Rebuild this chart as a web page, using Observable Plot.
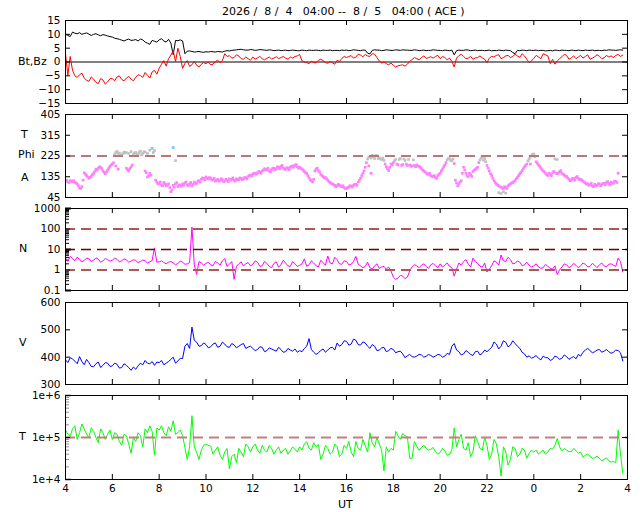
<!DOCTYPE html>
<html><head><meta charset="utf-8">
<script src="https://cdn.jsdelivr.net/npm/d3@7"></script>
<script src="https://cdn.jsdelivr.net/npm/@observablehq/plot@0.6"></script>
<style>
body{margin:0;background:#fff;font-family:"DejaVu Sans",sans-serif;}
#wrap{position:relative;width:640px;height:512px;overflow:hidden;}
.lab{position:absolute;font-size:11px;white-space:pre;color:#000;line-height:14px;}
</style></head><body><div id="wrap"></div>
<script>
// ---- data: UT hours from 04:00; "A" arrays sampled at 4.0,4.2,...; "B" arrays at 4.1,4.3,... ----
const btA = [10.0,9.2,10.4,10.6,10.3,10.1,10.0,9.8,9.9,9.4,
9.0,8.4,7.9,8.0,7.8,8.1,8.3,7.2,6.4,7.5,
8.0,7.6,8.2,2.6,7.7,7.6,3.9,3.8,3.7,3.6,
3.7,3.8,3.6,3.7,3.9,4.0,4.3,4.5,4.4,4.3,
4.4,4.3,4.4,4.2,4.3,4.2,4.1,4.3,4.2,4.2,
4.1,4.2,4.3,4.2,4.2,4.3,4.2,4.1,4.2,4.3,
4.3,4.2,4.3,4.1,4.3,2.9,4.4,4.3,4.2,4.3,
4.2,4.3,4.4,4.3,4.2,4.3,4.2,4.1,4.2,4.3,
4.2,4.3,4.1,2.6,4.3,4.2,4.3,4.2,4.1,4.2,
4.2,4.0,4.1,4.2,4.3,4.1,3.0,4.1,4.2,4.3,
4.2,4.1,4.2,4.1,4.0,4.2,4.3,4.2,4.3,4.1,
4.2,4.3,4.2,4.1,4.2,4.3,4.4,4.3,4.3,4.3];
const btB = [9.6,10.8,10.2,10.0,10.5,9.6,10.2,9.5,9.7,9.2,
8.6,8.2,7.6,8.3,7.9,7.6,8.0,6.8,7.8,7.2,
8.4,7.2,6.8,7.8,8.0,3.0,4.0,3.6,3.8,3.5,
3.6,3.7,3.8,3.6,4.1,4.2,4.4,4.6,4.3,4.5,
4.2,4.5,4.3,4.4,4.1,4.3,4.2,4.1,4.3,4.1,
4.3,4.1,4.2,4.3,4.1,4.2,4.3,4.2,4.1,4.2,
4.1,4.4,4.2,4.3,3.2,4.2,4.3,4.1,4.4,4.2,
4.4,4.2,4.3,4.2,4.4,4.1,4.3,4.2,4.4,4.2,
4.1,4.2,4.3,4.1,4.2,4.4,4.1,4.3,4.2,4.1,
4.3,4.2,4.3,4.1,4.2,3.4,4.2,4.3,4.1,4.2,
4.3,4.2,4.0,4.2,4.3,4.1,4.2,4.1,4.2,4.3,
4.1,4.2,4.3,4.2,4.1,4.2,4.3,4.2,4.4];
const bzA = [3.0,2.0,-5.0,-4.6,-5.8,-7.0,-6.2,-7.8,-6.5,-7.2,
-6.0,-5.4,-6.3,-5.8,-6.2,-5.5,-4.9,-3.8,-5.8,-3.0,
-2.3,0.5,1.2,4.0,5.0,-2.3,0.5,-1.0,-1.2,-0.8,
-0.6,-1.0,0.2,-0.2,3.0,2.3,1.6,2.2,1.0,1.2,
1.8,1.5,1.2,1.3,1.1,1.9,1.6,1.4,1.8,2.0,
2.7,0.0,-0.6,-0.2,0.6,0.5,-0.5,-0.3,0.6,1.3,
1.6,2.3,1.8,2.5,2.7,2.0,2.8,0.4,0.0,-1.0,
-1.2,-1.4,-1.0,-0.8,0.9,1.2,1.6,1.3,1.9,2.0,
1.2,1.6,1.4,-1.8,2.3,2.0,1.4,1.0,1.6,1.5,
-0.2,2.0,2.4,1.2,2.2,1.6,2.8,1.7,2.2,-0.2,
1.3,1.8,3.0,2.2,1.0,0.4,1.9,2.4,1.5,1.2,
2.4,2.0,1.0,1.9,2.1,1.5,1.8,1.6,2.7,2.5];
const bzB = [-4.8,-3.0,-5.6,-4.0,-6.6,-5.4,-7.4,-6.0,-8.0,-6.0,
-6.8,-5.0,-6.8,-5.2,-6.8,-4.6,-5.6,-4.8,-3.6,-4.4,
-0.8,-1.5,2.5,0.2,2.0,-0.5,-1.6,0.2,-1.8,-0.2,
0.0,-0.8,0.6,0.5,2.0,1.4,2.6,1.2,1.8,0.6,
1.0,2.0,0.8,1.8,1.4,1.2,2.0,1.0,1.4,2.2,
0.4,-0.2,0.3,-0.3,1.0,-0.2,0.2,-0.8,0.2,2.0,
2.0,1.4,2.8,1.9,2.2,3.0,1.6,-0.4,-0.6,-0.4,
-1.8,-1.2,-1.5,0.2,1.6,0.8,2.2,1.6,1.4,2.4,
2.0,0.8,0.2,1.4,2.8,1.2,2.0,1.5,2.2,1.0,
1.4,1.8,2.6,1.6,2.4,2.0,2.2,3.0,1.0,0.4,
2.4,1.2,2.6,-0.6,-0.8,1.2,2.8,1.0,2.2,1.8,
1.4,2.6,1.4,2.6,1.2,2.4,2.2,2.4,2.0];
const nA = [3.8,4.6,2.8,3.3,2.9,3.5,3.0,3.4,2.8,3.2,
3.0,3.3,2.8,3.1,2.7,2.9,2.6,2.8,2.5,12.0,
2.5,2.3,2.4,2.2,2.1,2.4,2.0,125,0.6,2.2,
2.1,1.8,2.6,1.7,3.6,1.9,0.35,2.0,1.6,2.3,
1.9,2.4,1.6,2.1,1.3,2.5,1.8,2.2,1.5,2.0,
1.7,3.5,1.8,2.2,1.4,2.3,4.8,2.0,3.2,1.9,
2.6,1.9,4.6,1.6,1.5,1.3,1.6,1.2,1.5,1.4,
0.45,0.4,0.5,0.45,1.4,1.6,1.7,1.5,1.8,1.6,
2.0,1.7,1.5,0.5,2.2,2.6,1.9,3.8,2.1,1.4,
0.8,1.6,2.4,5.4,2.6,3.2,2.1,2.4,1.8,1.7,
1.6,1.4,1.3,1.5,1.1,0.6,1.4,1.8,1.5,1.7,
1.6,1.9,1.5,1.7,1.8,1.6,1.9,1.7,3.8,0.8];
const nB = [2.6,3.6,4.2,2.5,3.8,2.6,3.9,2.4,3.6,2.7,
3.8,2.5,3.5,2.4,3.2,2.3,3.1,2.2,2.9,2.4,
2.8,2.0,2.6,1.8,2.7,1.9,2.3,1.8,2.6,1.7,
2.4,1.6,2.2,2.8,1.5,2.6,1.5,2.5,2.0,1.6,
2.8,1.5,2.6,1.5,2.1,1.4,3.0,1.6,2.6,1.5,
2.0,1.5,2.8,1.6,3.0,1.7,2.2,4.2,2.0,2.8,
1.8,2.6,1.9,1.3,2.4,1.1,2.0,1.4,1.1,0.9,
0.35,0.55,0.38,0.9,1.8,1.3,2.0,1.2,2.1,1.3,
1.4,2.2,1.3,1.1,1.7,3.2,1.4,2.6,1.5,2.2,
1.1,2.8,1.7,2.8,4.2,2.0,2.8,1.6,2.4,1.4,
2.0,1.2,1.9,1.2,1.6,1.0,2.0,1.3,2.1,1.3,
2.2,1.4,2.1,1.3,2.2,1.4,2.0,1.5,2.6];
const vA = [390,398,385,402,372,380,365,382,370,378,
368,374,362,370,352,356,378,388,376,370,
380,372,384,400,386,395,450,510,455,442,
446,438,452,440,448,436,445,440,450,437,
432,428,436,424,430,422,428,420,426,430,
424,432,468,418,416,430,426,436,452,446,
458,448,462,444,452,432,440,426,436,424,
428,420,412,405,402,404,408,403,406,404,
408,404,410,450,420,412,418,406,422,414,
420,436,448,440,455,444,450,432,412,405,
400,396,404,398,392,400,396,402,398,394,
404,426,424,420,428,422,420,418,424,386];
const vB = [380,394,376,384,392,366,376,362,380,366,
378,360,376,362,364,368,372,378,384,382,
388,378,392,378,396,440,432,462,440,452,
434,448,436,455,438,450,434,446,432,440,
424,438,420,434,426,436,418,432,422,418,
420,440,428,410,424,418,434,426,440,460,
444,466,446,456,440,446,424,434,420,432,
416,422,398,410,400,410,400,410,400,410,
400,414,440,426,408,424,410,420,408,426,
428,456,430,460,438,460,440,418,400,396,
406,390,398,388,404,392,408,392,402,410,
418,432,416,426,418,428,414,426,416];
const tA = [1.5e5,1.1e5,1.9e5,1.3e5,1.6e5,1.0e5,1.4e5,7.5e4,1.3e5,1.2e5,
9e4,1.2e5,6.5e4,1.1e5,4.2e4,8e4,1.1e5,1.6e5,1.9e5,3.8e4,
1.5e5,1.3e5,1.8e5,2.5e5,1.3e5,1.1e5,3e4,3.3e5,4.4e4,5e4,
7e4,6.2e4,5e4,3.8e4,4.5e4,1.8e4,4e4,5.5e4,3.5e4,6e4,
6e4,5e4,6.5e4,4.5e4,5.5e4,5e4,4.2e4,5.5e4,4.8e4,5.2e4,
6e4,7e4,5.5e4,7.5e4,6.8e4,4e4,5.5e4,4.5e4,6e4,4e4,
5.5e4,4.5e4,8e4,5e4,6.5e4,1.3e5,6e4,7e4,1.6e4,4.5e4,
5e4,1.1e5,1.25e5,1.05e5,3.2e4,6.2e4,5.8e4,5.5e4,5.2e4,4.6e4,
4.4e4,4.8e4,4e4,1.7e5,9e4,5.5e4,7.5e4,4.5e4,8e4,5e4,
6.5e4,4e4,7e4,1.2e4,4.5e4,3e4,5.5e4,4e4,5e4,4.2e4,
4.5e4,4e4,5e4,4.5e4,5.2e4,9.5e4,4.8e4,5e4,4.6e4,4.9e4,
4.5e4,3.8e4,3.6e4,3.3e4,3.2e4,3e4,2.8e4,2.7e4,1.5e5,1.4e4];
const tB = [1.2e5,1.6e5,9e4,2.1e5,1.2e5,1.7e5,1.0e5,1.6e5,9e4,1.5e5,
1.3e5,8e4,1.2e5,7e4,1.0e5,1.3e5,6e4,1.3e5,1.4e5,1.7e5,
1.9e5,1.1e5,1.4e5,1.2e5,1.5e5,5.8e4,6e4,6e4,3e4,6.5e4,
6.5e4,4e4,6e4,3e4,5.5e4,3.5e4,2.5e4,4.5e4,7e4,4.5e4,
7e4,4.2e4,5e4,6.5e4,4e4,6e4,5e4,4e4,6e4,4.5e4,
5e4,8e4,5e4,6e4,3e4,6.5e4,4e4,7e4,3.5e4,6.5e4,
8e4,3.5e4,5.5e4,9e4,4.5e4,7.5e4,1.0e5,5e4,6e4,5.5e4,
1.4e5,9e4,1.1e5,3.2e4,8e4,5e4,6.5e4,5e4,5.8e4,4e4,
5.5e4,3.8e4,5e4,6e4,1.2e5,5e4,3.5e4,1.1e5,5.5e4,1.0e5,
3e4,9e4,3.5e4,6e4,2.2e4,6e4,3.5e4,5.5e4,3.2e4,5e4,
5e4,4.6e4,4e4,5.5e4,6.5e4,6e4,5.5e4,4.6e4,5.5e4,4.2e4,
3.4e4,4e4,3.2e4,3.6e4,2.8e4,3.3e4,2.6e4,2.5e4,4e4];
// Phi angle at 4.0,4.1,... with colour class; second set at 4.05,4.15,...
const phiA = [116,112,118,114,110,104,86,92,152,140,
128,136,150,168,172,176,160,148,165,180,
190,232,245,238,226,242,172,160,178,232,
240,228,246,236,160,134,150,258,248,112,
106,100,110,96,104,70,262,205,92,98,
104,108,100,104,96,112,106,118,124,128,
134,126,128,122,116,124,118,122,116,120,
126,124,120,126,122,128,126,130,136,142,
146,150,152,155,160,170,166,160,166,172,
170,176,180,174,168,172,176,182,184,178,
176,168,158,150,130,118,124,168,162,145,
136,132,120,110,104,98,96,98,92,88,
84,90,94,98,102,112,128,150,176,212,
222,228,214,226,218,210,206,178,162,190,
196,210,186,214,188,206,184,186,182,184,
186,180,170,160,152,146,140,136,132,140,
150,168,186,208,214,204,192,108,104,118,
176,150,136,144,158,166,176,208,220,214,
184,160,140,118,104,96,90,84,88,96,
104,110,118,132,148,162,178,190,212,226,
234,200,186,172,160,150,140,146,152,212,
148,156,150,142,136,124,120,126,132,128,
124,116,108,104,100,96,102,98,104,100,
106,110,106,112,108,114,150];
const phiClassA = "pppppppppp"+"pppppppppp"+"pgggggpppg"+"ggggpppbgp"+"ppppppbgpp"+
"pppppppppp"+"pppppppppp"+"pppppppppp"+"pppppppppp"+"pppppppppp"+"pppppppppp"+"pppppppppp"+
"pppppppppg"+"gggggggppp"+"pgpgpgpppp"+"pppppppppp"+"pppgggpppp"+"pppppppggg"+
"pppppppppp"+"ppppppppgg"+"gppppppppg"+"pppppppppp"+"pppppppppp"+"ppppppp";
const phiB = [120,110,116,118,108,96,84,120,146,134,
132,144,158,164,178,170,154,156,172,186,
196,240,236,230,236,238,166,170,186,238,
234,240,230,244,152,140,142,240,120,104,
112,96,104,100,88,78,90,110,100,94,
98,112,96,110,102,106,116,112,130,122,
128,132,120,128,120,116,126,114,124,114,
120,130,116,122,130,122,132,126,140,138,
150,146,158,150,164,164,172,156,172,166,
178,170,184,168,174,166,180,176,188,172,
172,164,152,140,122,112,160,172,156,140,
130,126,114,106,100,92,102,94,96,84,
88,96,90,102,98,120,140,160,196,220,
216,222,228,214,212,216,190,170,176,186,
204,190,210,184,212,190,210,180,208,178,
182,176,164,156,146,150,136,140,128,146,
160,178,196,214,206,212,120,96,112,150,
164,140,150,136,164,172,196,216,206,200,
172,148,128,110,100,92,86,92,84,100,
108,114,126,140,154,170,184,204,220,232,
222,194,180,166,156,144,150,140,158,150,
152,162,146,138,130,118,128,120,136,122,
120,112,104,98,106,92,96,104,96,106,
100,114,100,106,116,110];
const extraT = [6.15,6.25,6.6,6.7,6.8,7.4,7.5,7.6,8.6,8.7,16.95,17.05,22.5,22.6,22.7,22.8,23.85,25.0];
const extraV = [182,168,240,236,244,242,236,250,98,104,182,150,66,62,70,64,190,210];
const extraC = "ppggggggppppggggpg";

const xTicks = [6,8,10,12,14,16,18,20,22,24,26];
const xLabels = [4,6,8,10,12,14,16,18,20,22,24,26,28];
const bTicks = [15,10,5,0,-5,-10,-15];
const aTicks = [45,135,225,315,405];
const nTicks = [0.1,1,10,100,1000];
const nLabels = ["0.1","1","10","100","1000"];
const vTicks = [300,400,500,600];
const tTicks = [1e4,1e5,1e6];
const tLabels = ["1e+4","1e+5","1e+6"];

// ---- build ----
const interleave = (a, b) => a.flatMap((v, i) => i < b.length ? [v, b[i]] : [v]);
const bt = interleave(btA, btB), bz = interleave(bzA, bzB), dens = interleave(nA, nB),
      speed = interleave(vA, vB), temp = interleave(tA, tB);
const hours = d3.range(bt.length).map(i => 4 + i * 0.1);
const phiPts = phiA.map((v, i) => ({t: 4 + i * 0.1, v, c: phiClassA[i]}))
  .concat(phiB.map((v, i) => ({t: 4.05 + i * 0.1, v, c: v >= 200 ? "g" : "p"})))
  .concat(extraT.map((t, i) => ({t, v: extraV[i], c: extraC[i]})));
const minorLog = (lo, hi) => { const a = []; for (let e = lo; e < hi; e++) for (let m = 2; m <= 9; m++) a.push(m * 10 ** e); return a; };

const wrap = document.getElementById("wrap");
const W = 562;
function panel(o) {
  const mt = 8, mb = o.bottomAxis ? 40 : 8;
  const h = o.bottom - o.top;
  const marks = [
    ...o.marks,
    Plot.tickX(xTicks, {x: d => d, insetTop: h - 5, stroke: "#000"}),
    Plot.tickX(xTicks, {x: d => d, insetBottom: h - 5, stroke: "#000"}),
    Plot.tickY(o.yTicks, {y: d => d, insetLeft: W - 5, stroke: "#000"}),
    Plot.tickY(o.yTicks, {y: d => d, insetRight: W - 5, stroke: "#000"}),
    Plot.axisY(o.yTicks, {tickSize: 0, tickPadding: 5, label: null, tickFormat: o.fmt}),
    Plot.frame({stroke: "#000"})
  ];
  if (o.bottomAxis) marks.push(Plot.axisX(xLabels, {tickSize: 0, tickPadding: 5, label: null, tickFormat: d => String(d % 24)}));
  const svg = Plot.plot({
    width: 640, height: h + mt + mb,
    marginLeft: 65, marginRight: 13, marginTop: mt, marginBottom: mb,
    style: {fontFamily: "DejaVu Sans", fontSize: "10.5px", background: "none", color: "#000", overflow: "visible"},
    x: o.bottomAxis ? {domain: [4, 28]} : {domain: [4, 28], axis: null},
    y: o.y,
    marks
  });
  svg.style.position = "absolute";
  svg.style.left = "0px";
  svg.style.top = (o.top - mt) + "px";
  wrap.append(svg);
}

// Panel 1: Bt, Bz
panel({top: 20, bottom: 103, y: {domain: [-15, 15]}, yTicks: bTicks, marks: [
  Plot.ruleY([0], {stroke: "#808080", strokeWidth: 2}),
  Plot.line(bt, {x: hours, y: bt, stroke: "#000", strokeWidth: 1, clip: true}),
  Plot.line(bz, {x: hours, y: bz, stroke: "#ff0000", strokeWidth: 1, clip: true})
]});
// Panel 2: Phi angle
panel({top: 114, bottom: 197, y: {domain: [45, 405]}, yTicks: aTicks, marks: [
  Plot.dot(phiPts.filter(d => d.c === "g"), {x: "t", y: "v", r: 1.5, symbol: "square", fill: "#c0c0c0", clip: true}),
  Plot.dot(phiPts.filter(d => d.c === "p"), {x: "t", y: "v", r: 1.5, symbol: "square", fill: "#ff80ff", clip: true}),
  Plot.dot(phiPts.filter(d => d.c === "b"), {x: "t", y: "v", r: 1.6, symbol: "square", fill: "#80c8ff", clip: true}),
  Plot.ruleY([225], {stroke: "#b87878", strokeWidth: 2, strokeDasharray: "10,6"})
]});
// Panel 3: N (log)
panel({top: 208, bottom: 290, y: {type: "log", domain: [0.1, 1000]}, yTicks: nTicks,
  fmt: d => nLabels[nTicks.indexOf(d)], marks: [
  Plot.tickY(minorLog(-1, 3), {y: d => d, insetRight: W - 4, stroke: "#000"}),
  Plot.tickY(nTicks, {y: d => d, insetRight: W - 6, stroke: "#000", strokeWidth: 2}),
  Plot.line(dens, {x: hours, y: dens, stroke: "#ff00ff", strokeWidth: 1, clip: true}),
  Plot.ruleY([100, 1], {stroke: "#b05858", strokeWidth: 2, strokeDasharray: "10,6"}),
  Plot.ruleY([10], {stroke: "#700000", strokeWidth: 1.5, strokeDasharray: "10,6"})
]});
// Panel 4: V
panel({top: 302, bottom: 384, y: {domain: [300, 600]}, yTicks: vTicks, marks: [
  Plot.line(speed, {x: hours, y: speed, stroke: "#0000ff", strokeWidth: 1, clip: true})
]});
// Panel 5: T (log)
panel({top: 395, bottom: 479, y: {type: "log", domain: [1e4, 1e6]}, yTicks: tTicks,
  fmt: d => tLabels[tTicks.indexOf(d)], bottomAxis: true, marks: [
  Plot.tickY(minorLog(4, 6), {y: d => d, insetRight: W - 4, stroke: "#909090"}),
  Plot.tickY(tTicks, {y: d => d, insetRight: W - 6, stroke: "#909090", strokeWidth: 2}),
  Plot.line(temp, {x: hours, y: temp, stroke: "#00ff00", strokeWidth: 1, clip: true}),
  Plot.ruleY([1e5], {stroke: "#c08080", strokeWidth: 2, strokeDasharray: "10,6"})
]});

// ---- text labels ----
const labels = [
  ["2026 /  8 /  4   04:00 --  8 /  5   04:00 ( ACE )", 222, 5],
  ["Bt,Bz", 18, 55], ["T", 21, 128], ["Phi", 18, 148], ["A", 21, 171],
  ["N", 19, 242], ["V", 19, 336], ["T", 19, 430], ["UT", 338, 498]
];
for (const [txt, x, y] of labels) {
  const d = document.createElement("div");
  d.className = "lab"; d.textContent = txt;
  d.style.left = x + "px"; d.style.top = y + "px";
  wrap.append(d);
}
</script></body></html>
